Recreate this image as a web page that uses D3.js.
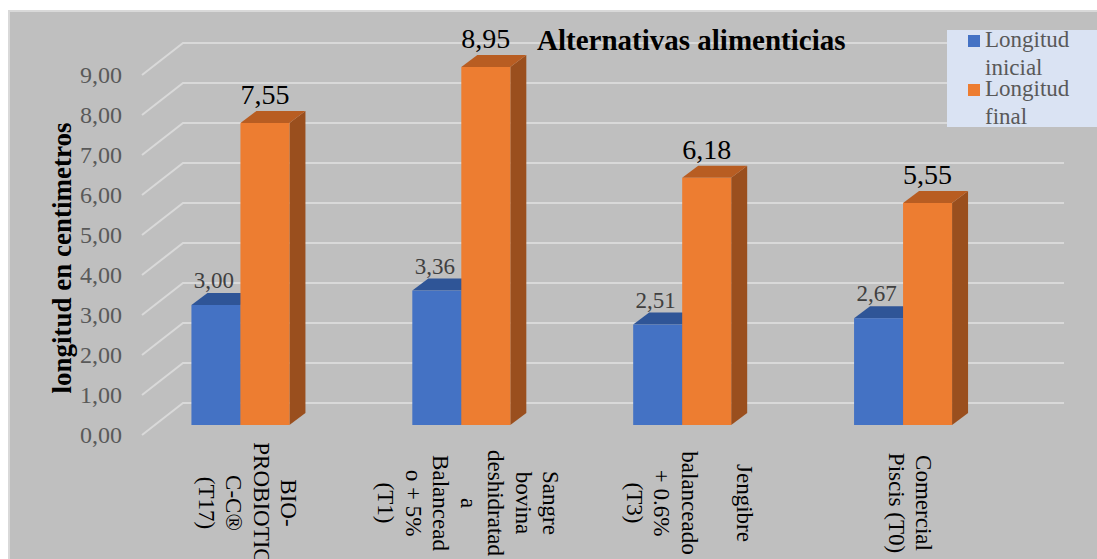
<!DOCTYPE html>
<html>
<head>
<meta charset="utf-8">
<script src="https://cdn.jsdelivr.net/npm/d3@7"></script>
<style>
  html, body { margin: 0; padding: 0; background: #ffffff; }
  svg { display: block; }
  text { font-family: "Liberation Serif", "Times New Roman", serif; }
</style>
</head>
<body>
<svg id="chart" width="1097" height="559"></svg>
<script>
// Chart data
const categories = [
  "BIO-PROBIOTIC C-C® (T17)",
  "Sangre bovina deshidratada Balanceado + 5% (T1)",
  "Jengibre balanceado + 0.6% (T3)",
  "Comercial Piscis (T0)"
];
// wrapped label lines, one array per category
const categoryLines = [
  ["BIO-", "PROBIOTIC", "C-C®", "(T17)"],
  ["Sangre", "bovina", "deshidratad", "a", "Balancead", "o + 5%", "(T1)"],
  ["Jengibre", "", "balanceado", "+ 0.6%", "(T3)"],
  ["Comercial", "Piscis (T0)"]
];
const seriesNames = ["Longitud inicial", "Longitud final"];
const seriesLegendLines = [["Longitud", "inicial"], ["Longitud", "final"]];
const longitudInicial = [3.00, 3.36, 2.51, 2.67];
const longitudFinal = [7.55, 8.95, 6.18, 5.55];
const tickValues = [0, 1, 2, 3, 4, 5, 6, 7, 8, 9];
const chartTitle = "Alternativas alimenticias";
const yAxisTitle = "longitud en centimetros";

const svg = d3.select("#chart");
const fmt = v => v.toFixed(2).replace(".", ",");

// chart area background
svg.append("rect")
  .attr("x", 9).attr("y", 11).attr("width", 1097).attr("height", 560)
  .attr("fill", "#bfbfbf").attr("stroke", "#d9d9d9").attr("stroke-width", 2);

// scales: y for the bar plane, x bands for categories, inner bands for series
const y = d3.scaleLinear().domain([0, 9]).range([425, 65]);
const x = d3.scaleBand().domain(categories).range([130, 1013.5]).padding(0);
const xs = d3.scaleBand().domain(seriesNames).range([-49, 49]).padding(0);

// oblique projection offsets
const frontOff = 10;            // front wall plane vs bar plane (y)
const wallDx = 41, wallDy = -32; // front plane -> back wall
const barDx = 16, barDy = -12;   // bar depth

const frontX = 142, backX = frontX + wallDx, backRight = 1064;

// gridlines: diagonal on the side wall, horizontal along the back wall
const grid = svg.append("g").attr("stroke", "#d9d9d9").attr("stroke-width", 2).attr("fill", "none");
tickValues.forEach(v => {
  const yf = y(v) + frontOff;
  grid.append("path")
    .attr("d", `M${frontX},${yf}L${backX},${yf + wallDy}L${backRight},${yf + wallDy}`);
});

// tick labels
svg.append("g").selectAll("text").data(tickValues).join("text")
  .attr("x", 122).attr("y", d => y(d) + frontOff)
  .attr("text-anchor", "end").attr("dominant-baseline", "central")
  .attr("font-size", 24).attr("fill", "#595959")
  .text(d => fmt(d));

// y axis title
svg.append("text")
  .attr("transform", `translate(62,258) rotate(-90)`)
  .attr("text-anchor", "middle").attr("dominant-baseline", "central")
  .attr("font-size", 27).attr("font-weight", "bold").attr("fill", "#000")
  .text(yAxisTitle);

// 3D bars
const series = [
  { name: seriesNames[0], values: longitudInicial, front: "#4472c4", top: "#2f5597", side: "#2f5597" },
  { name: seriesNames[1], values: longitudFinal, front: "#ed7d31", top: "#b85d22", side: "#9a4f1e" }
];
const bars = svg.append("g");
series.forEach(s => {
  categories.forEach((c, i) => {
    const v = s.values[i];
    const x0 = x(c) + x.bandwidth() / 2 + xs(s.name);
    const x1 = x0 + xs.bandwidth();
    const yt = y(v), yb = y(0);
    const g = bars.append("g");
    g.append("path").attr("fill", s.side)
      .attr("d", `M${x1},${yt}L${x1 + barDx},${yt + barDy}L${x1 + barDx},${yb + barDy}L${x1},${yb}Z`);
    g.append("path").attr("fill", s.top)
      .attr("d", `M${x0},${yt}L${x1},${yt}L${x1 + barDx},${yt + barDy}L${x0 + barDx},${yt + barDy}Z`);
    g.append("rect").attr("fill", s.front)
      .attr("x", x0).attr("y", yt).attr("width", x1 - x0).attr("height", yb - yt);
  });
});

// value labels
categories.forEach((c, i) => {
  const cx = x(c) + x.bandwidth() / 2;
  const vi = longitudInicial[i], vf = longitudFinal[i];
  svg.append("text")
    .attr("x", cx + xs(seriesNames[0]) + xs.bandwidth() / 2 - 2)
    .attr("y", y(vi) + barDy - 5)
    .attr("text-anchor", "middle").attr("font-size", 23).attr("fill", "#404040")
    .text(fmt(vi));
  svg.append("text")
    .attr("x", cx + xs(seriesNames[1]) + xs.bandwidth() / 2)
    .attr("y", y(vf) + barDy - 7)
    .attr("text-anchor", "middle").attr("font-size", 28).attr("fill", "#000")
    .text(fmt(vf));
});

// category labels, rotated to read downward
categories.forEach((c, i) => {
  const lines = categoryLines[i];
  const n = lines.length;
  const cx = x(c) + x.bandwidth() / 2 + 7;
  lines.forEach((ln, j) => {
    svg.append("text")
      .attr("transform", `translate(${cx + ((n - 1) / 2 - j) * 27.5},503) rotate(90)`)
      .attr("text-anchor", "middle").attr("dominant-baseline", "central")
      .attr("font-size", 23).attr("fill", "#000")
      .text(ln);
  });
});

// chart title
svg.append("text")
  .attr("x", 537).attr("y", 50)
  .attr("font-size", 29).attr("font-weight", "bold").attr("fill", "#000")
  .text(chartTitle);

// legend
const legend = svg.append("g");
legend.append("rect").attr("x", 947).attr("y", 30).attr("width", 150).attr("height", 97)
  .attr("fill", "#dae3f3");
const legendTop = [47, 96];
series.forEach((s, k) => {
  legend.append("rect").attr("x", 968).attr("y", legendTop[k] - 12).attr("width", 12).attr("height", 12)
    .attr("fill", s.front);
  seriesLegendLines[k].forEach((ln, j) => {
    legend.append("text").attr("x", 985).attr("y", legendTop[k] + j * 28)
      .attr("font-size", 23).attr("fill", "#595959").text(ln);
  });
});
</script>
</body>
</html>
